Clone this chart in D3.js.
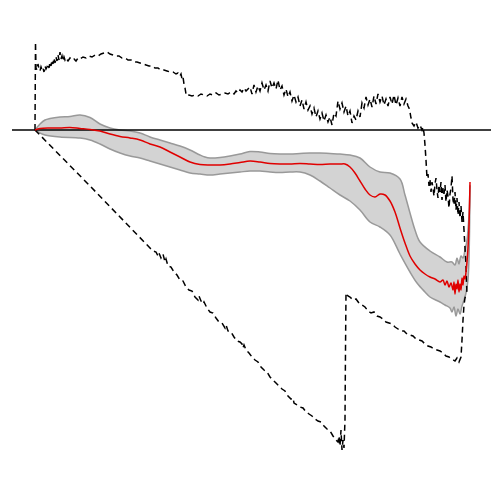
<!DOCTYPE html>
<html>
<head>
<meta charset="utf-8">
<script src="https://cdn.jsdelivr.net/npm/d3@7"></script>
<style>
  body { margin: 0; background: #fff; }
</style>
</head>
<body>
<svg class="my_svg"></svg>
<script>
// x = day index, y = cumulative value (0 = reference level)
var zeroSpan = [-23, 456];

var upperBound = [[0,0],[0.5,88],[1,62],[2,60],[3,66],[4,61],[5,59],[6,63],[7,60],[8,62],[9,58],[10,64],[11,61],[12,63],[13,66],[14,62],[15,68],[16,64],[17,70],[18,66],[19,72],[20,67],[21,73],[22,69],[23,75],[24,70],[25,78],[26,71],[27,74],[28,69],[29,73],[30,70],[31,72],[33,69],[35,72],[37,70],[39,71],[41,69],[43,72],[45,71],[48,73],[51,72],[54,74],[57,73],[60,75],[63,74],[66,76],[69,77],[72,78],[75,76],[78,75],[81,74],[84,74],[87,72],[90,72],[93,70],[96,70],[99,68],[102,68],[105,67],[108,66],[111,65],[114,64],[117,64],[120,62],[123,62],[126,60],[129,60],[132,59],[135,58],[138,58],[141,56],[143,57],[145,54],[146,56],[147,51],[148,53],[149,46],[150,42],[151,36],[152,34],[154,35],[157,34],[160,35],[163,34],[166,36],[169,35],[172,34],[175,36],[178,35],[181,37],[184,35],[187,36],[190,37],[193,36],[196,38],[199,36],[201,39],[203,37],[205,40],[207,38],[209,42],[211,39],[213,41],
  [215,43],[217,36],[219,45],[221,38],[223,44],[225,39],[227,47],[229,40],[231,45],[233,39],[235,49],[237,42],[239,47],[241,41],[243,50],[245,40],[247,44],[249,35],[251,41],[253,33],[255,38],[257,29],[259,35],[261,28],[263,33],[265,24],[267,30],[269,21],[271,28],[273,20],[275,24],[277,16],[279,22],[281,13],[283,19],[285,11],[287,17],[289,9],[291,15],[293,8],[295,13],[297,5],[299,17],[301,14],
  [303,29],[305,21],[307,27],[309,18],[311,24],[313,14],[315,19],[317,7],[319,14],[321,10],[323,19],[325,13],[327,27],[329,22],[331,33],[333,25],[335,31],[337,23],[339,34],[341,26],[343,36],[345,28],[347,34],[349,25],[351,31],[353,24],[355,33],[357,26],[359,35],[361,25],[363,32],[365,24],[367,33],[369,26],[371,31],[373,24],[374,22],[375,18],[376,12],[377,7],[379,4],[381,8],[383,2],[385,5],[387,0],[388,3],[389,-3],
  [390,-15],[391,-30],[392,-48],[393,-44],[394,-56],[395,-50],[396,-62],[397,-52],[398,-58],[399,-66],[400,-54],[401,-48],[402,-60],[403,-68],[404,-55],[405,-62],[406,-52],[407,-70],[408,-58],[409,-64],[410,-55],[411,-72],[412,-60],[413,-66],[414,-78],[415,-64],[416,-58],[417,-46],[418,-70],[419,-75],[420,-62],[421,-80],[422,-68],[423,-85],[424,-72],[425,-88],[426,-76],[427,-92],[428,-82],[429,-100],[430,-118],[431,-135],[431.5,-152],[432,-165]];

var lowerBound = [[0,0],[55,-56],[115,-118],[118,-121],[121,-122],[123,-126],[124,-123],[126,-128],[128,-124],[130,-132],[131,-129],[133,-136],[136,-137],[139,-142],[142,-145],[145,-150],[148,-151],[151,-157],[154,-160],[157,-161],[160,-167],[163,-170],[164,-166],[166,-171],[168,-174],[169,-172],[172,-178],[175,-182],[178,-183],[181,-188],[184,-192],[187,-193],[190,-198],[191,-195],[193,-201],[196,-202],[199,-207],[202,-211],[205,-212],[207,-214],[208,-218],[209,-215],[211,-220],[214,-223],[217,-227],[220,-230],[223,-232],[226,-237],[229,-240],[232,-242],[235,-247],[238,-250],[241,-253],[244,-256],[247,-259],[250,-261],[253,-266],[256,-269],[258,-268],[259,-273],[262,-275],[265,-277],[268,-278],[271,-282],[274,-284],[277,-286],[280,-289],[283,-291],[286,-292],[289,-296],[292,-299],[295,-301],[298,-306],[301,-310],[303,-312],[304,-306],[305,-316],[306,-300],[307,-320],[308,-310],[309,-318],[310,-290],[310.5,-220],[311,-163],[313,-166],[315,-167],[318,-170],[321,-169],[324,-173],[327,-175],[330,-177],[333,-181],[336,-183],[339,-182],[342,-186],[345,-187],[348,-189],[351,-192],[354,-193],[357,-194],[360,-197],[363,-199],[366,-201],[369,-201],[372,-204],[375,-205],[378,-206],[381,-209],[384,-210],[387,-211],[390,-214],[393,-216],[396,-217],[399,-219],[402,-220],[405,-221],[408,-223],[411,-226],[414,-227],[417,-229],[420,-231],[422,-228],[424,-232],[426,-227],[427,-210],[428,-190],[429,-175],[430,-168],[431,-165]];

var meanLine = [[0,0],[5,1.5],[15,2],[25,2],[35,2.5],[45,1.5],[55,0.5],[65,-1],[75,-4],[85,-6.5],[95,-8],[105,-10],[115,-14],[125,-17],[135,-22],[145,-27],[155,-32],[165,-34.5],[175,-35],[185,-35],[195,-34],[205,-32.5],[215,-31],[225,-32],[235,-33.5],[245,-34],[255,-34],[265,-33.5],[275,-34],[285,-34.5],[295,-34],[305,-34],[310,-34],[315,-37],[320,-43],[325,-51],[330,-59],[335,-65],[340,-67],[345,-64],[350,-65],[355,-71],[360,-82],[365,-98],[370,-113],[375,-126],[380,-134],[385,-140],[390,-144],[395,-147],[400,-149],[405,-152],[408,-150],[410,-155],[412,-151],[414,-157],[416,-153],[418,-160],[419,-152],[420,-164],[421,-154],[422,-159],[423,-150],[424,-162],[425,-154],[426,-160],[427,-148],[428,-155],[429,-146],[430,-149],[431,-142],[432,-132],[433,-118],[434,-95],[435,-52]];

var bandHigh = [[0,0],[5,6],[10,10],[15,11.5],[25,13],[35,13.5],[45,15],[55,12.5],[65,6],[75,2],[85,0],[95,-1],[105,-3],[115,-7],[125,-10],[135,-13],[145,-16],[155,-20],[165,-25],[170,-27],[175,-28],[185,-27.5],[195,-26],[205,-24],[215,-21.5],[225,-22],[235,-23.5],[245,-24],[255,-24],[265,-23.5],[275,-23],[285,-23],[295,-23.5],[305,-24],[315,-25],[325,-28],[335,-37],[345,-42],[355,-43],[365,-49],[370,-65],[375,-83],[380,-100],[385,-112],[395,-121],[405,-127],[412,-132],[417,-132],[420,-135],[422,-128],[424,-134],[426,-126],[428,-128],[430,-120],[432,-110],[434,-85],[435,-55]];

var bandLow = [[0,0],[5,-3],[10,-5],[25,-7],[45,-8],[55,-10],[65,-14],[75,-19],[85,-23],[95,-26],[105,-28],[115,-31],[125,-34],[135,-37],[145,-40],[155,-43],[165,-44],[175,-45],[185,-44],[195,-43],[205,-42],[215,-41],[225,-41],[235,-42],[245,-42.5],[255,-42],[265,-42],[275,-45],[285,-51],[295,-58],[305,-65],[315,-71],[325,-80],[335,-92],[345,-97],[355,-105],[365,-124],[375,-142],[382,-153],[390,-162],[395,-167],[405,-172],[410,-175],[415,-178],[417,-182],[419,-177],[421,-186],[423,-179],[425,-184],[427,-176],[429,-170],[431,-163],[433,-150],[435,-56]];

const width = 500;
const height = 500;

var svg = d3.select(".my_svg").attr("width", width).attr("height", height);

var xScale = d3.scaleLinear().domain([0, 435]).range([35, 470]);
var yScale = d3.scaleLinear().domain([-320, 88]).range([450, 42]);

var smooth = d3.line().x(d => xScale(d[0])).y(d => yScale(d[1])).curve(d3.curveCatmullRom);
var jagged = d3.line().x(d => xScale(d[0])).y(d => yScale(d[1]));

//band fill: high edge forward, low edge back
var bandPath = smooth(bandHigh) + "L" + smooth(bandLow.slice().reverse()).slice(1) + "Z";
svg.append("path").attr("d", bandPath).attr("fill", "#d3d3d3").attr("stroke", "none");
svg.selectAll(".band_edge").data([bandHigh, bandLow]).join("path").attr("class", "band_edge")
  .attr("d", d => smooth(d)).attr("fill", "none").attr("stroke", "#999").attr("stroke-width", 1.5);

//zero line
svg.append("line").attr("x1", xScale(zeroSpan[0])).attr("x2", xScale(zeroSpan[1]))
  .attr("y1", yScale(0)).attr("y2", yScale(0)).attr("stroke", "#000").attr("stroke-width", 1.5);

//bounds
svg.selectAll(".bound").data([upperBound, lowerBound]).join("path").attr("class", "bound")
  .attr("d", d => jagged(d)).attr("fill", "none").attr("stroke", "#000")
  .attr("stroke-width", 1.5).attr("stroke-dasharray", "6,4");

//mean
svg.append("path").attr("d", smooth(meanLine)).attr("fill", "none").attr("stroke", "#e00000").attr("stroke-width", 1.5);
</script>
</body>
</html>
